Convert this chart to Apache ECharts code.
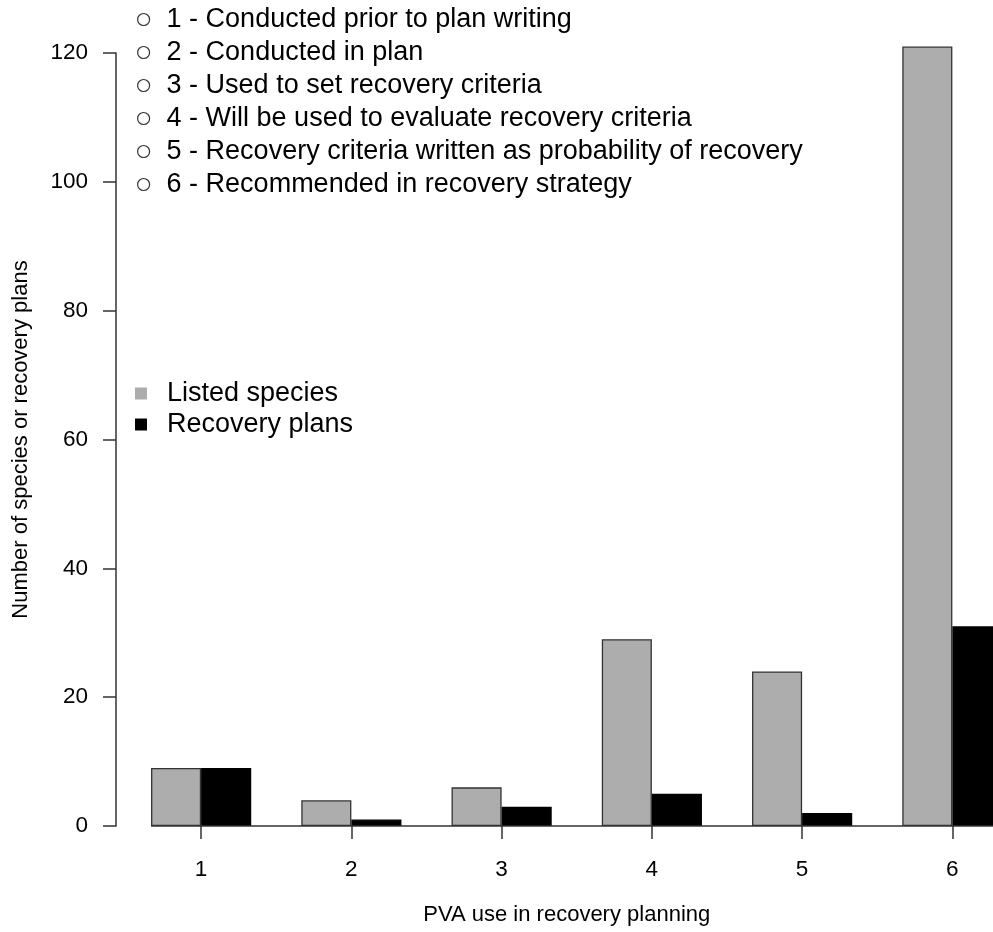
<!DOCTYPE html>
<html>
<head>
<meta charset="utf-8">
<script src="https://cdn.jsdelivr.net/npm/echarts@6/dist/echarts.min.js"></script>
<style>
html,body{margin:0;padding:0;background:#fff;}
#main{width:993px;height:932px;}
</style>
</head>
<body>
<div id="main"></div>
<script>
var categories = ['1', '2', '3', '4', '5', '6'];
var listedSpecies = [9, 4, 6, 29, 24, 121];
var recoveryPlans = [9, 1, 3, 5, 2, 31];
var pvaUses = [
  '1 - Conducted prior to plan writing',
  '2 - Conducted in plan',
  '3 - Used to set recovery criteria',
  '4 - Will be used to evaluate recovery criteria',
  '5 - Recovery criteria written as probability of recovery',
  '6 - Recommended in recovery strategy'
];
var yTicks = {min: 0, max: 120, interval: 20};
var seriesNames = ['Listed species', 'Recovery plans'];

var FONT = 'Liberation Sans, Arial, Helvetica, sans-serif';
var chart = echarts.init(document.getElementById('main'), null, {renderer: 'canvas'});

var dummy = pvaUses.map(function (n) {
  return {type: 'scatter', name: n, data: [], silent: true};
});

var option = {
  backgroundColor: '#fff',
  animation: false,
  textStyle: {fontFamily: FONT},
  grid: {left: 126, width: 901.5, top: 53, bottom: 106, containLabel: false, outerBoundsMode: 'none'},
  legend: [
    {
      data: pvaUses,
      orient: 'vertical',
      left: 132,
      top: 1,
      icon: 'circle',
      itemWidth: 12,
      itemHeight: 12,
      itemGap: 6,
      selectedMode: false,
      itemStyle: {color: '#fff', borderColor: '#000', borderWidth: 1.2},
      textStyle: {fontFamily: FONT, fontSize: 27, lineHeight: 27, color: '#000', padding: [0, 0, 0, 12]}
    },
    {
      data: seriesNames,
      orient: 'vertical',
      left: 130,
      top: 375,
      icon: 'rect',
      itemWidth: 12,
      itemHeight: 12,
      itemGap: 4,
      selectedMode: false,
      itemStyle: {borderWidth: 0},
      textStyle: {fontFamily: FONT, fontSize: 27, lineHeight: 27, color: '#000', padding: [0, 0, 0, 15]}
    }
  ],
  xAxis: {
    type: 'category',
    data: categories,
    name: 'PVA use in recovery planning',
    nameLocation: 'middle',
    nameGap: 78,
    nameTextStyle: {fontFamily: FONT, fontSize: 22, color: '#000', padding: [0, 20, 0, 0]},
    axisLine: {show: false},
    axisTick: {show: true, alignWithLabel: true, length: 13, lineStyle: {color: '#333', width: 1.5}},
    axisLabel: {fontFamily: FONT, fontSize: 22.5, color: '#000', margin: 32},
    splitLine: {show: false}
  },
  yAxis: {
    type: 'value',
    min: yTicks.min,
    max: yTicks.max,
    interval: yTicks.interval,
    offset: 10,
    name: 'Number of species or recovery plans',
    nameLocation: 'middle',
    nameGap: 84,
    nameTextStyle: {fontFamily: FONT, fontSize: 22, color: '#000'},
    axisLine: {show: true, lineStyle: {color: '#333', width: 1.5}},
    axisTick: {show: true, length: 13, lineStyle: {color: '#333', width: 1.5}},
    axisLabel: {fontFamily: FONT, fontSize: 22.5, color: '#000', margin: 28},
    splitLine: {show: false}
  },
  series: [
    {
      type: 'bar',
      name: seriesNames[0],
      data: listedSpecies,
      clip: false,
      barGap: '0%',
      barCategoryGap: '33.333%',
      itemStyle: {color: '#adadad', borderColor: '#333', borderWidth: 1.3},
      emphasis: {disabled: true}
    },
    {
      type: 'bar',
      name: seriesNames[1],
      data: recoveryPlans,
      clip: false,
      barGap: '0%',
      barCategoryGap: '33.333%',
      itemStyle: {color: '#000', borderColor: '#000', borderWidth: 1.3},
      emphasis: {disabled: true}
    },
    {
      type: 'custom',
      name: 'baseline',
      silent: true,
      z: 3,
      data: [[0, yTicks.min]],
      renderItem: function (params, api) {
        var p = api.coord([api.value(0), api.value(1)]);
        var band = api.size([1, 0])[0];
        var cs = params.coordSys;
        return {
          type: 'line',
          shape: {x1: p[0] - band / 3, y1: p[1], x2: cs.x + cs.width, y2: p[1]},
          style: {stroke: '#333', lineWidth: 1.5}
        };
      }
    }
  ].concat(dummy)
};
chart.setOption(option);
</script>
</body>
</html>
